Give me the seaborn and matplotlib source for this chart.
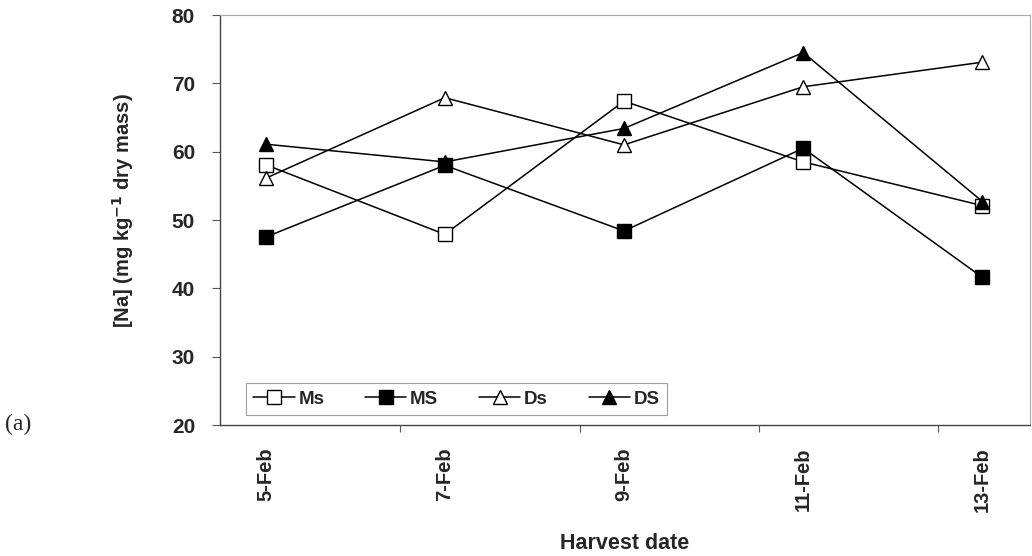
import numpy as np
import pandas as pd
import matplotlib
matplotlib.use("Agg")
import matplotlib.pyplot as plt
import seaborn as sns

# values
dates = ["5-Feb", "7-Feb", "9-Feb", "11-Feb", "13-Feb"]
ms_lower = [58.1, 47.9, 67.4, 58.5, 52.1]   # Ms
ms_upper = [47.5, 58.0, 48.4, 60.5, 41.6]   # MS
ds_lower = [56.1, 67.9, 61.0, 69.5, 73.1]   # Ds
ds_upper = [61.1, 58.5, 63.4, 74.5, 52.7]   # DS

series = {"Ms": ms_lower, "MS": ms_upper, "Ds": ds_lower, "DS": ds_upper}
styles = {"Ms": ("s", "white"), "MS": ("s", "black"),
          "Ds": ("^", "white"), "DS": ("^", "black")}

rows = []
for name, vals in series.items():
    for i, v in enumerate(vals):
        rows.append({"pos": i, "value": v, "group": name})
df = pd.DataFrame(rows)

sns.set_style("white")
plt.rcParams["font.family"] = ["Liberation Sans", "DejaVu Sans"]

fig = plt.figure(figsize=(10.32, 5.56), dpi=100)
ax = fig.add_axes([0.2132, 0.2356, 0.7848, 0.7374])

for name in series:
    m, fc = styles[name]
    sns.lineplot(data=df[df["group"] == name], x="pos", y="value", ax=ax,
                 color="black", linewidth=1.1, marker=m, markersize=9.5,
                 markerfacecolor=fc, markeredgecolor="black",
                 markeredgewidth=1.0, label=name)

ax.set_xlim(-0.254, 4.265)
ax.set_ylim(20, 80)
ax.set_yticks(np.arange(20, 81, 10))
ax.set_xticks(range(len(dates)))
ax.set_xticklabels(dates, rotation=90, fontsize=14.5, fontweight="bold")
ax.set_xticks([i + 0.752 for i in range(4)], minor=True)
ax.tick_params(axis="x", which="major", length=0, pad=16)
ax.tick_params(axis="x", which="minor", length=5, width=0.8, color="#555555",
               direction="out", bottom=True)
ax.tick_params(axis="y", length=6, width=0.8, color="#555555", direction="out",
               left=True, labelsize=15, pad=12)
for t in ax.get_yticklabels():
    t.set_fontweight("bold")

for s in ["left", "bottom"]:
    ax.spines[s].set_color("#444444")
    ax.spines[s].set_linewidth(1.0)
for s in ["top", "right"]:
    ax.spines[s].set_color("#aaaaaa")
    ax.spines[s].set_linewidth(0.8)

ax.set_xlabel("Harvest date", fontsize=15.5, fontweight="bold")
ax.xaxis.set_label_coords(0.5, -0.263)
ax.set_ylabel("[Na] (mg kg$^{\\mathbf{-1}}$ dry mass)", fontsize=14.5,
              fontweight="bold")
ax.yaxis.set_label_coords(-0.104, 0.524)

leg = ax.legend(loc="lower left", bbox_to_anchor=(0.032, 0.024, 0.52, 0.144),
                mode="expand", ncol=4, frameon=True, fancybox=False,
                handlelength=2.2, handletextpad=0.2, borderaxespad=0,
                prop={"weight": "bold", "size": 13.5})
leg.get_frame().set_edgecolor("#888888")
leg.get_frame().set_linewidth(0.8)

fig.text(0.005, 0.227, "(a)", fontsize=17, va="baseline",
         family=["Liberation Serif"])

fig.savefig("out.png", dpi=100)
